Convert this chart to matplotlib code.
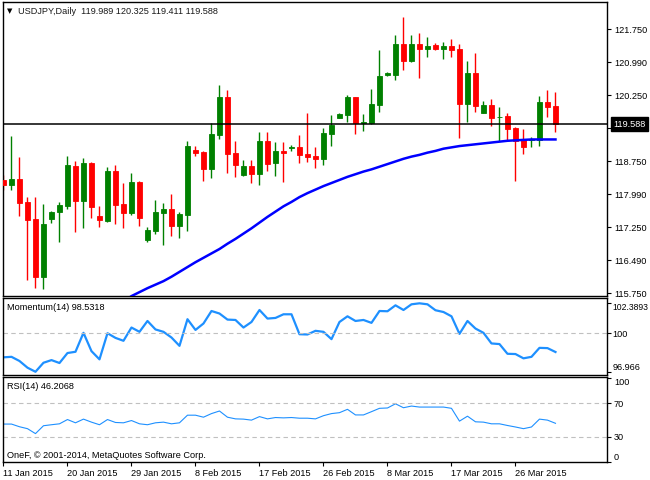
import matplotlib
matplotlib.use("Agg")
import matplotlib.pyplot as plt
import numpy as np

plt.rcParams['font.family'] = ['Liberation Sans', 'DejaVu Sans']

# daily USDJPY bars, 11 Jan 2015 .. 1 Apr 2015 (sunday bars included)
opens = [118.32, 118.20, 118.34, 117.82, 117.43, 116.12, 117.44, 117.58, 117.73, 118.64,
         117.85, 118.70, 117.50, 117.39, 118.52, 117.77, 117.57, 118.27, 116.95, 117.16,
         117.57, 117.66, 117.27, 117.52, 119.00, 118.95, 118.57, 119.34, 120.20, 118.93,
         118.43, 118.64, 118.45, 119.20, 118.70, 118.98, 119.05, 119.07, 118.91, 118.86,
         118.80, 119.36, 119.73, 119.80, 120.20, 119.62, 119.61, 120.02, 120.70, 120.70,
         121.41, 121.02, 121.41, 121.30, 121.39, 121.30, 121.36, 121.30, 120.05, 120.76,
         119.83, 120.02, 119.74, 119.78, 119.51, 119.23, 119.22, 119.23, 120.09, 119.989]
highs = [118.43, 119.32, 118.84, 117.93, 117.93, 117.77, 117.62, 117.82, 118.86, 118.75,
         118.82, 118.73, 117.73, 118.61, 118.66, 118.25, 118.48, 118.30, 117.25, 117.86,
         117.80, 118.00, 117.59, 119.20, 119.09, 118.97, 119.61, 120.48, 120.36, 119.20,
         118.77, 118.77, 119.41, 119.41, 119.18, 119.18, 119.11, 119.34, 119.84, 119.07,
         119.50, 119.80, 119.84, 120.25, 120.20, 119.82, 120.39, 121.27, 120.77, 121.61,
         122.02, 121.61, 121.66, 121.57, 121.43, 121.45, 121.52, 121.41, 121.02, 121.21,
         120.11, 120.16, 119.98, 119.83, 119.53, 119.48, 119.30, 120.23, 120.36, 120.325]
lows = [118.09, 118.08, 117.51, 116.05, 115.87, 115.83, 117.35, 116.92, 117.66, 117.14,
        117.23, 117.45, 117.25, 117.36, 117.32, 117.23, 117.52, 117.27, 116.91, 117.09,
        116.84, 117.05, 117.00, 117.16, 118.86, 118.30, 118.36, 119.25, 118.48, 118.39,
        118.41, 118.25, 118.20, 118.52, 118.41, 118.27, 118.98, 118.70, 118.73, 118.59,
        118.66, 119.09, 119.73, 119.64, 119.36, 119.43, 119.59, 119.86, 120.68, 120.59,
        120.82, 121.00, 120.64, 121.11, 121.27, 121.07, 121.11, 119.28, 119.64, 119.87,
        119.83, 119.55, 119.20, 119.21, 118.30, 118.92, 119.07, 119.10, 119.76, 119.411]
closes = [118.20, 118.34, 117.80, 117.42, 116.12, 117.32, 117.59, 117.75, 118.66, 117.83,
          118.70, 117.70, 117.42, 118.52, 117.75, 117.57, 118.27, 117.45, 117.18, 117.59,
          117.66, 117.27, 117.55, 119.09, 118.93, 118.57, 119.36, 120.20, 118.91, 118.66,
          118.64, 118.45, 119.20, 118.68, 118.98, 118.93, 119.07, 118.89, 118.84, 118.80,
          119.39, 119.57, 119.82, 120.20, 119.61, 119.64, 120.05, 120.68, 120.75, 121.41,
          121.02, 121.41, 121.30, 121.36, 121.30, 121.36, 121.27, 120.05, 120.76, 120.00,
          120.02, 119.73, 119.76, 119.48, 119.21, 119.075, 119.24, 120.09, 119.98, 119.588]

# moving average, visible from bar 15 on
ma_first_bar = 15
ma_values = [115.55, 115.68, 115.77, 115.86, 115.94, 116.02, 116.12, 116.23, 116.34, 116.45,
             116.55, 116.65, 116.75, 116.87, 116.98, 117.10, 117.22, 117.35, 117.48, 117.60,
             117.72, 117.82, 117.93, 118.02, 118.10, 118.18, 118.25, 118.32, 118.39, 118.45,
             118.51, 118.56, 118.62, 118.68, 118.74, 118.80, 118.85, 118.89, 118.94, 118.98,
             119.03, 119.06, 119.09, 119.11, 119.13, 119.15, 119.17, 119.19, 119.21, 119.22,
             119.23, 119.24, 119.24, 119.24, 119.24]

momentum = [98.11, 98.15, 97.82, 97.29, 96.966, 97.68, 97.89, 97.66, 98.45, 98.55,
            100.05, 98.60, 97.95, 100.02, 99.65, 99.42, 100.47, 100.13, 100.99, 100.32,
            100.13, 99.68, 99.02, 101.13, 100.28, 100.79, 101.78, 101.58, 101.10, 101.07,
            100.47, 100.91, 101.86, 101.18, 101.23, 101.52, 101.52, 99.94, 99.92, 100.21,
            100.13, 99.55, 100.91, 101.36, 100.99, 101.07, 100.84, 101.78, 101.76, 102.23,
            101.86, 102.31, 102.3893, 102.31, 101.84, 101.70, 101.36, 99.97, 100.99, 100.39,
            100.05, 99.21, 99.16, 98.39, 98.37, 98.03, 98.15, 98.86, 98.84, 98.5318]

rsi = [45.3, 45.3, 42.1, 39.8, 33.9, 43.3, 44.5, 45.6, 50.7, 46.8,
       51.2, 47.6, 44.5, 50.7, 47.2, 46.8, 49.5, 45.6, 44.5, 46.8,
       47.6, 45.6, 46.8, 55.9, 55.9, 53.5, 57.8, 60.9, 53.5, 51.5,
       51.2, 50.0, 54.2, 51.5, 53.1, 52.7, 53.1, 52.3, 52.3, 51.5,
       55.3, 57.8, 58.9, 62.9, 56.2, 56.2, 60.1, 64.1, 64.5, 69.5,
       64.8, 66.8, 65.6, 65.6, 65.6, 65.6, 64.1, 48.8, 54.7, 48.0,
       47.6, 45.6, 45.6, 43.6, 41.8, 39.8, 41.8, 51.2, 50.0, 46.2068]

date_labels = ['11 Jan 2015', '20 Jan 2015', '29 Jan 2015', '8 Feb 2015', '17 Feb 2015',
               '26 Feb 2015', '8 Mar 2015', '17 Mar 2015', '26 Mar 2015']
date_step = 8
price_ticks = [121.750, 120.990, 120.250, 119.510, 118.750, 117.990, 117.250, 116.490, 115.750]
rsi_ticks = [0, 30, 70, 100]
rsi_levels = [30, 70]

W, H = 650, 480
FS = 6.6
GREEN, RED = '#008000', '#ff0000'
LINE_BLUE = '#1e90ff'


def box(top, bottom, left=3, right=607):
    return [left / W, 1 - bottom / H, (right - left) / W, (bottom - top) / H]


fig = plt.figure(figsize=(W / 100, H / 100), dpi=100)
ax = fig.add_axes(box(2, 296))
ax_mom = fig.add_axes(box(298, 375))
ax_rsi = fig.add_axes(box(377, 462))

x = np.arange(len(opens))
o, h, l, c = (np.array(v) for v in (opens, highs, lows, closes))
cols = np.where(c >= o, GREEN, RED)

# candles
ax.vlines(x, l, h, colors=cols, linewidth=1.0, zorder=2)
ax.bar(x, c - o, bottom=o, width=0.55, color=cols, edgecolor=cols, linewidth=0.6, zorder=3)
ax.plot(x[ma_first_bar:], ma_values, color='#0000ff', lw=1.8, zorder=4)
ax.axhline(c[-1], color='black', lw=1.1, zorder=5)

xlim = (-0.06, 75.44)
for a in (ax, ax_mom, ax_rsi):
    a.set_xlim(*xlim)
    a.yaxis.tick_right()
    a.tick_params(axis='y', direction='out', length=3, width=0.8, pad=2, labelsize=FS)
    for s in a.spines.values():
        s.set_linewidth(1.0)
ax.set_xticks([])
ax_mom.set_xticks([])

ax.set_ylim(115.682, 122.364)
ax.set_yticks(price_ticks)
ax.set_yticklabels([f'{t:.3f}' for t in price_ticks])

ax.text(0.0108, 0.969, '\u25bc', transform=ax.transAxes, fontsize=5, va='center', ha='center',
        family=['DejaVu Sans'])
ax.text(0.0253, 0.969, f'USDJPY,Daily  {o[-1]:.3f} {h[-1]:.3f} {l[-1]:.3f} {c[-1]:.3f}',
        transform=ax.transAxes, fontsize=FS, va='center', ha='left', color='#1a1a1a')
ax.text(1.0105, c[-1], f'{c[-1]:.3f}', transform=ax.get_yaxis_transform(), fontsize=FS,
        color='white', va='center', ha='left', zorder=10, clip_on=False,
        bbox=dict(boxstyle='square,pad=0.3', fc='black', ec='black'))

# momentum panel
ax_mom.plot(x, momentum, color=LINE_BLUE, lw=1.6)
ax_mom.axhline(100, color='#c0c0c0', lw=0.8, ls=(0, (4, 3)))
ax_mom.set_ylim(96.71, 102.81)
m_lo, m_hi = min(momentum), max(momentum)
ax_mom.set_yticks([m_lo, 100, m_hi])
ax_mom.set_yticklabels([str(m_lo), '100', str(m_hi)])
ax_mom.tick_params(axis='y', pad=1.2)
lbls = ax_mom.get_yticklabels()
lbls[0].set_va('bottom')
lbls[2].set_va('top')
lbls[2].set_fontsize(6.2)
ax_mom.text(0.0071, 0.871, f'Momentum(14) {momentum[-1]:.4f}', transform=ax_mom.transAxes,
            fontsize=FS, va='center', ha='left')

# rsi panel
ax_rsi.plot(x, rsi, color=LINE_BLUE, lw=0.8)
for lv in rsi_levels:
    ax_rsi.axhline(lv, color='#c0c0c0', lw=0.8, ls=(0, (4, 3)))
ax_rsi.set_ylim(0, 101.5)
ax_rsi.set_yticks(rsi_ticks)
ax_rsi.set_yticklabels([str(t) for t in rsi_ticks])
lbls = ax_rsi.get_yticklabels()
lbls[0].set_va('bottom')
lbls[-1].set_va('top')
ax_rsi.text(0.0071, 0.888, f'RSI(14) {rsi[-1]:.4f}', transform=ax_rsi.transAxes,
            fontsize=FS, va='center', ha='left')
ax_rsi.text(0.0071, 0.079, 'OneF, \u00a9 2001-2014, MetaQuotes Software Corp.',
            transform=ax_rsi.transAxes, fontsize=FS, va='center', ha='left')

ax_rsi.set_xticks(np.arange(len(date_labels)) * date_step)
ax_rsi.set_xticklabels(date_labels, ha='left')
ax_rsi.tick_params(axis='x', direction='out', length=3, width=0.8, pad=2, labelsize=FS)

fig.savefig('out.png', dpi=100)
